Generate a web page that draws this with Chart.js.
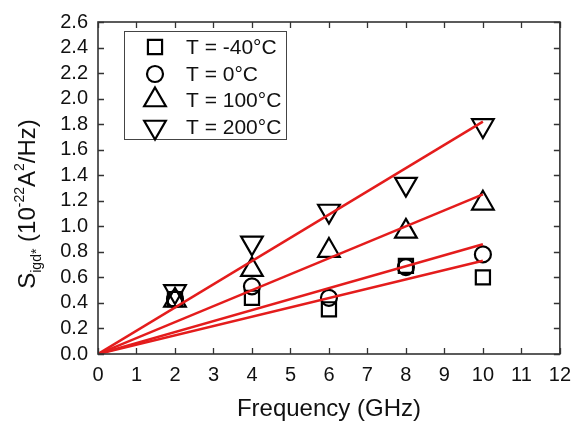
<!DOCTYPE html>
<html lang="en">
<head>
  <meta charset="UTF-8" />
  <title>Noise vs Frequency</title>
  <script src="https://cdn.jsdelivr.net/npm/chart.js"></script>
  <style>
    html, body { margin: 0; padding: 0; background: #fff; }
    #wrap { width: 580px; height: 424px; }
  </style>
</head>
<body>
  <div id="wrap"><canvas id="noiseChart" width="580" height="424"></canvas></div>

  <script>
    // measured points (x in GHz, y in 1e-22 A^2/Hz)
    const freqs = [2, 4, 6, 8, 10];
    const sMinus40 = [0.43, 0.44, 0.35, 0.69, 0.60];
    const s0 = [0.43, 0.53, 0.44, 0.68, 0.78];
    const s100 = [0.42, 0.66, 0.81, 0.96, 1.18];
    const s200 = [0.49, 0.87, 1.12, 1.33, 1.79];

    // linear fits through origin, value at fitEndX
    const fitEndX = 10;
    const fitEnds = [0.73, 0.86, 1.25, 1.82];

    const seriesLabels = ['T = -40°C', 'T = 0°C', 'T = 100°C', 'T = 200°C'];
    const xTicks = [0, 1, 2, 3, 4, 5, 6, 7, 8, 9, 10, 11, 12];
    const yTicks = [0, 0.2, 0.4, 0.6, 0.8, 1.0, 1.2, 1.4, 1.6, 1.8, 2.0, 2.2, 2.4, 2.6];

    const FONT = '"Liberation Sans", Arial, Helvetica, sans-serif';
    const markers = [
      { pointStyle: 'rect', radius: 10, rotation: 0 },
      { pointStyle: 'circle', radius: 8, rotation: 0 },
      { pointStyle: 'triangle', radius: 12.5, rotation: 0 },
      { pointStyle: 'triangle', radius: 12.5, rotation: 180 }
    ];
    const allSeries = [sMinus40, s0, s100, s200];

    const toPts = (ys) => freqs.map((f, i) => ({ x: f, y: ys[i] }));

    const datasets = [];
    fitEnds.forEach((v) => {
      datasets.push({
        type: 'line',
        data: [{ x: 0, y: 0 }, { x: fitEndX, y: v }],
        borderColor: '#e41c1c',
        borderWidth: 2.5,
        pointRadius: 0,
        fill: false
      });
    });
    allSeries.forEach((ys, i) => {
      datasets.push({
        label: seriesLabels[i],
        data: toPts(ys),
        showLine: false,
        pointStyle: markers[i].pointStyle,
        pointRadius: markers[i].radius,
        rotation: markers[i].rotation,
        borderColor: '#000',
        backgroundColor: 'rgba(0,0,0,0)',
        pointBorderWidth: 2.2
      });
    });

    // frame, inward ticks, legend and axis titles
    const decorPlugin = {
      id: 'decor',
      afterDraw(chart) {
        const ctx = chart.ctx;
        const a = chart.chartArea;
        const xs = chart.scales.x, ysc = chart.scales.y;
        ctx.save();
        ctx.strokeStyle = '#333';
        ctx.lineWidth = 1.6;
        ctx.strokeRect(a.left, a.top, a.right - a.left, a.bottom - a.top);

        const tl = 6;
        ctx.lineWidth = 1.3;
        ctx.beginPath();
        xTicks.forEach((t) => {
          const px = Math.round(xs.getPixelForValue(t)) + 0.5;
          ctx.moveTo(px, a.bottom); ctx.lineTo(px, a.bottom - tl);
          ctx.moveTo(px, a.top); ctx.lineTo(px, a.top + tl);
        });
        yTicks.forEach((t) => {
          const py = Math.round(ysc.getPixelForValue(t)) + 0.5;
          ctx.moveTo(a.left, py); ctx.lineTo(a.left + tl, py);
          ctx.moveTo(a.right, py); ctx.lineTo(a.right - tl, py);
        });
        ctx.stroke();

        // legend box
        ctx.lineWidth = 1;
        ctx.strokeStyle = '#444';
        ctx.strokeRect(124.5, 31.5, 162, 108);
        const rowY = [47, 74, 100, 127];
        seriesLabels.forEach((lab, i) => {
          ctx.fillStyle = 'rgba(0,0,0,0)';
          ctx.strokeStyle = '#000';
          ctx.lineWidth = 2.2;
          Chart.helpers.drawPoint(ctx, {
            pointStyle: markers[i].pointStyle,
            radius: markers[i].radius,
            rotation: markers[i].rotation,
            borderWidth: 2.2
          }, 155, rowY[i]);
          ctx.fillStyle = '#111';
          ctx.font = '21px ' + FONT;
          ctx.textAlign = 'left';
          ctx.textBaseline = 'middle';
          ctx.fillText(lab, 186, rowY[i] + 1);
        });

        // x title
        ctx.fillStyle = '#111';
        ctx.font = '24px ' + FONT;
        ctx.textAlign = 'center';
        ctx.textBaseline = 'middle';
        ctx.fillText('Frequency (GHz)', (a.left + a.right) / 2, 409);

        // y title with sub/superscripts
        const parts = [
          { t: 'S', size: 24, dy: 0 },
          { t: 'igd*', size: 14, dy: 6 },
          { t: ' (10', size: 24, dy: 0 },
          { t: '-22', size: 14, dy: -11 },
          { t: 'A', size: 24, dy: 0 },
          { t: '2', size: 14, dy: -11 },
          { t: '/Hz)', size: 24, dy: 0 }
        ];
        let total = 0;
        parts.forEach((p) => { ctx.font = p.size + 'px ' + FONT; p.w = ctx.measureText(p.t).width; total += p.w; });
        ctx.translate(35, 204);
        ctx.rotate(-Math.PI / 2);
        ctx.textAlign = 'left';
        ctx.textBaseline = 'alphabetic';
        let cx = -total / 2;
        parts.forEach((p) => {
          ctx.font = p.size + 'px ' + FONT;
          ctx.fillText(p.t, cx, p.dy);
          cx += p.w;
        });
        ctx.restore();
      }
    };

    new Chart(document.getElementById('noiseChart'), {
      type: 'scatter',
      data: { datasets },
      options: {
        responsive: false,
        animation: false,
        devicePixelRatio: 1,
        layout: { padding: { top: 14, right: 12, left: 0, bottom: 0 } },
        plugins: { legend: { display: false }, tooltip: { enabled: false } },
        scales: {
          x: {
            type: 'linear', min: 0, max: 12,
            afterBuildTicks: (s) => { s.ticks = xTicks.map((v) => ({ value: v })); },
            afterFit: (s) => { s.height = 70; },
            grid: { display: false, drawTicks: false },
            border: { display: false },
            ticks: { color: '#111', padding: 9, autoSkip: false, font: { size: 20, family: FONT }, maxRotation: 0 }
          },
          y: {
            type: 'linear', min: 0, max: 2.6,
            afterBuildTicks: (s) => { s.ticks = yTicks.map((v) => ({ value: v })); },
            afterFit: (s) => { s.width = 98; },
            grid: { display: false, drawTicks: false },
            border: { display: false },
            ticks: { color: '#111', padding: 10, autoSkip: false, font: { size: 20, family: FONT }, callback: (v) => v.toFixed(1) }
          }
        }
      },
      plugins: [decorPlugin]
    });
  </script>
</body>
</html>
